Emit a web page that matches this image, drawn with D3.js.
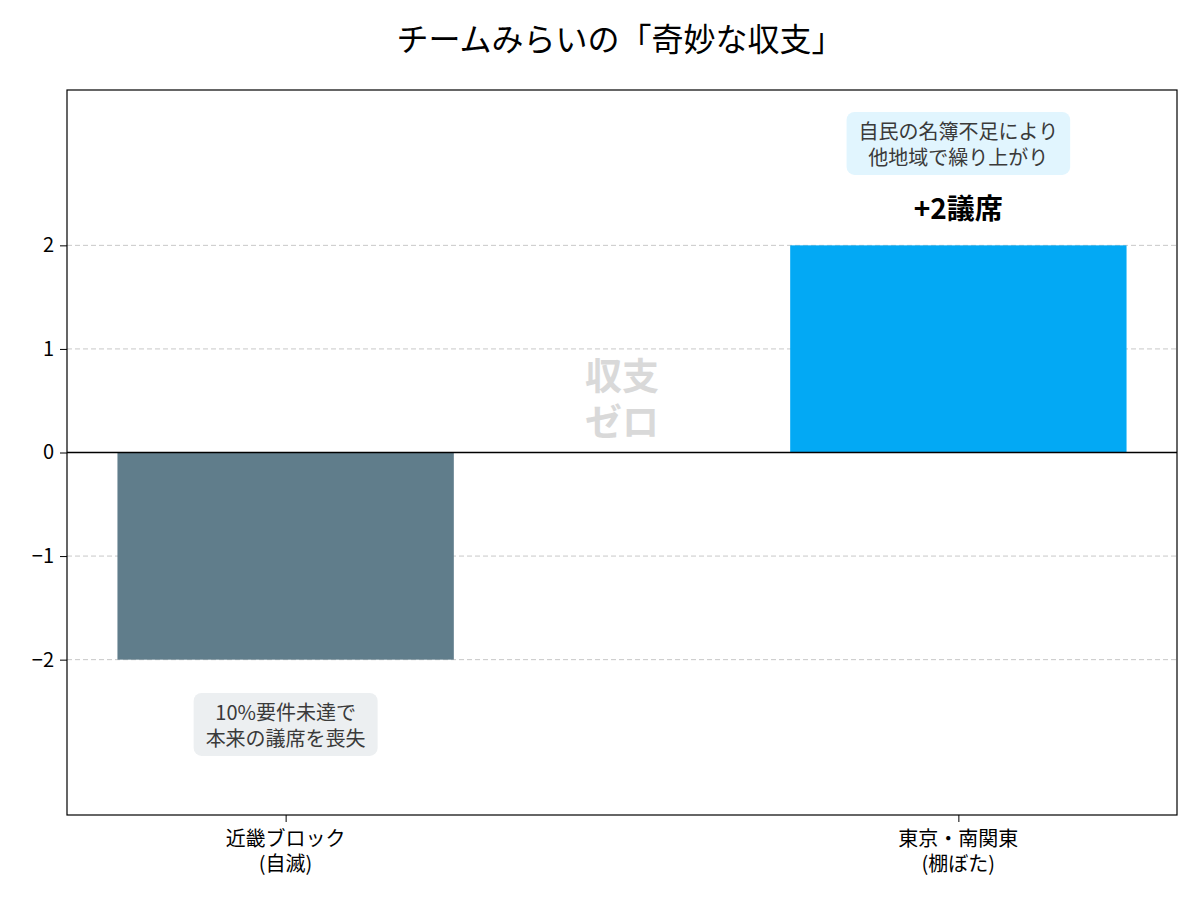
<!DOCTYPE html>
<html>
<head>
<meta charset="utf-8">
<script src="https://cdn.jsdelivr.net/npm/d3@7"></script>
<style>
body { margin: 0; background: #fff; }
text { font-family: "Noto Sans CJK JP", "Noto Sans", sans-serif; }
</style>
</head>
<body>
<script>
var categories = ["近畿ブロック\n(自滅)", "東京・南関東\n(棚ぼた)"];
var seatChange = [-2, 2];
var barColors = ["#607D8B", "#03A9F4"];
var yTicks = [-2, -1, 0, 1, 2];
var chartTitle = "チームみらいの「奇妙な収支」";
var noteLoss = ["10%要件未達で", "本来の議席を喪失"];
var noteGain = ["自民の名簿不足により", "他地域で繰り上がり"];
var gainLabel = "+2議席";
var centerLabel = ["収支", "ゼロ"];

function drawChart(){
	var width = 1200, height = 900;
	var plotLeft = 67, plotRight = 1177, plotTop = 90, plotBottom = 815;

	var svg = d3.select("body").append("svg")
		.attr("width", width)
		.attr("height", height);

	var x = d3.scaleLinear().domain([-0.325, 1.325]).range([plotLeft, plotRight]);
	var y = d3.scaleLinear().domain([-3.5, 3.5]).range([plotBottom, plotTop]);
	var barWidth = 0.5;

	// grid
	svg.selectAll("line.grid")
		.data(yTicks.filter(function(d){ return d !== 0; }))
		.enter()
		.append("line")
		.attr("class", "grid")
		.attr("x1", plotLeft).attr("x2", plotRight)
		.attr("y1", function(d){ return y(d); })
		.attr("y2", function(d){ return y(d); })
		.attr("stroke", "#c8c8c8")
		.attr("stroke-width", 1)
		.attr("stroke-dasharray", "5,3");

	// bars
	svg.selectAll("rect.bar")
		.data(seatChange)
		.enter()
		.append("rect")
		.attr("class", "bar")
		.attr("x", function(d,i){ return x(i - barWidth/2); })
		.attr("width", x(barWidth) - x(0))
		.attr("y", function(d){ return y(Math.max(0, d)); })
		.attr("height", function(d){ return Math.abs(y(d) - y(0)); })
		.attr("fill", function(d,i){ return barColors[i]; });

	// zero line
	svg.append("line")
		.attr("x1", plotLeft).attr("x2", plotRight)
		.attr("y1", y(0)).attr("y2", y(0))
		.attr("stroke", "#000")
		.attr("stroke-width", 1.3);

	// frame
	svg.append("rect")
		.attr("x", plotLeft).attr("y", plotTop)
		.attr("width", plotRight - plotLeft).attr("height", plotBottom - plotTop)
		.attr("fill", "none")
		.attr("stroke", "#000")
		.attr("stroke-width", 1.2);

	// y axis
	var yAxis = d3.axisLeft(y).tickValues(yTicks).tickSize(7).tickPadding(6)
		.tickFormat(d3.format("d"));
	var gy = svg.append("g")
		.attr("transform", "translate(" + plotLeft + ",0)")
		.call(yAxis);
	gy.select(".domain").remove();
	gy.selectAll("line").attr("stroke", "#000");
	gy.selectAll("text").attr("font-size", 20).attr("fill", "#000")
		.style("font-family", "'Noto Sans CJK JP', sans-serif");

	// x axis
	var xAxis = d3.axisBottom(x).tickValues([0, 1]).tickSize(7).tickFormat("");
	var gx = svg.append("g")
		.attr("transform", "translate(0," + plotBottom + ")")
		.call(xAxis);
	gx.select(".domain").remove();
	gx.selectAll("line").attr("stroke", "#000");

	svg.selectAll("text.xlab")
		.data(categories)
		.enter()
		.append("text")
		.attr("class", "xlab")
		.attr("x", function(d,i){ return x(i); })
		.attr("y", plotBottom + 31)
		.attr("text-anchor", "middle")
		.attr("font-size", 20)
		.each(function(d){
			var t = d3.select(this);
			d.split("\n").forEach(function(line, k){
				t.append("tspan").attr("x", t.attr("x")).attr("dy", k === 0 ? 0 : 25).text(line);
			});
		});

	// title
	svg.append("text")
		.attr("x", 620)
		.attr("y", 51)
		.attr("text-anchor", "middle")
		.attr("font-size", 32)
		.attr("fill", "#000")
		.text(chartTitle);

	// center label
	svg.selectAll("text.center")
		.data(centerLabel)
		.enter()
		.append("text")
		.attr("class", "center")
		.attr("x", x(0.5))
		.attr("y", function(d,i){ return y(0.6) + i*46; })
		.attr("text-anchor", "middle")
		.attr("font-size", 37)
		.attr("font-weight", "bold")
		.attr("fill", "#d9d9d9")
		.text(function(d){ return d; });

	// gain label
	svg.append("text")
		.attr("x", x(1))
		.attr("y", y(2) - 26)
		.attr("text-anchor", "middle")
		.attr("font-size", 28)
		.attr("font-weight", "bold")
		.attr("fill", "#000")
		.text(gainLabel);

	function noteBox(lines, cx, cy, bg) {
		var g = svg.append("g");
		var txt = g.append("text")
			.attr("text-anchor", "middle")
			.attr("font-size", 20)
			.attr("fill", "#3a3a3a");
		lines.forEach(function(line, k){
			txt.append("tspan")
				.attr("x", cx)
				.attr("y", cy - 6 + k*26)
				.text(line);
		});
		var bb = txt.node().getBBox();
		g.insert("rect", "text")
			.attr("x", bb.x - 12)
			.attr("y", bb.y - 4)
			.attr("width", bb.width + 24)
			.attr("height", bb.height + 8)
			.attr("rx", 8)
			.attr("fill", bg);
	}

	noteBox(noteGain, x(1), y(2.97), "#E1F5FE");
	noteBox(noteLoss, x(0), y(-2.64), "#ECEFF1");
}

drawChart();
</script>
</body>
</html>
